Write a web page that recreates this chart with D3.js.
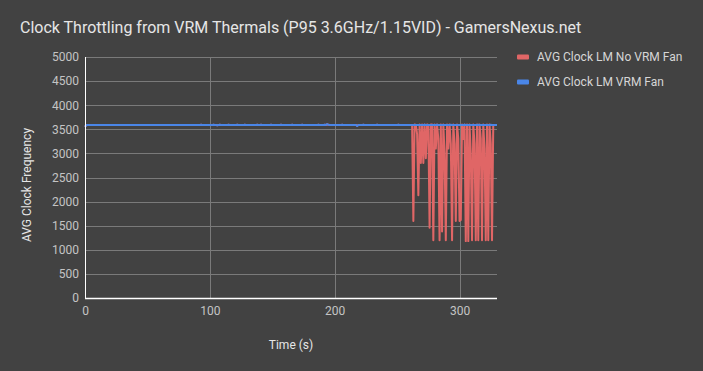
<!DOCTYPE html>
<html>
<head>
<meta charset="utf-8">
<script src="https://cdn.jsdelivr.net/npm/d3@7"></script>
<style>
  body { margin: 0; background: #424242; }
  svg { display: block; font-family: Roboto, "Noto Sans", sans-serif; }
</style>
</head>
<body>
<svg id="chart" width="703" height="371"></svg>
<script>
var chartTitle = "Clock Throttling from VRM Thermals (P95 3.6GHz/1.15VID) - GamersNexus.net";
var xTitle = "Time (s)";
var yTitle = "AVG Clock Frequency";
var seriesNames = ["AVG Clock LM No VRM Fan", "AVG Clock LM VRM Fan"];
var seriesColors = ["#e06666", "#4a86e8"];
var xTicks = [0, 100, 200, 300];
var yTicks = [0, 500, 1000, 1500, 2000, 2500, 3000, 3500, 4000, 4500, 5000];

// one sample per second, starting at t = 0
var noFanClock = [
  3552,3586,3590,3590,3590,3590,3590,3590,3590,3590,3590,3590,3590,3590,3590,3590,3590,3590,3590,3590,
  3590,3590,3590,3590,3590,3590,3590,3590,3590,3590,3590,3590,3590,3590,3590,3590,3590,3590,3590,3590,
  3590,3590,3590,3590,3590,3590,3590,3590,3590,3590,3590,3590,3590,3590,3590,3590,3590,3590,3590,3590,
  3590,3590,3590,3590,3590,3590,3590,3590,3590,3590,3590,3590,3590,3590,3590,3590,3590,3590,3590,3590,
  3590,3590,3590,3590,3590,3590,3590,3590,3590,3590,3590,3590,3590,3592,3590,3590,3588,3590,3590,3590,
  3590,3588,3590,3592,3590,3590,3586,3590,3592,3590,3590,3590,3588,3590,3590,3592,3590,3590,3590,3590,
  3590,3590,3592,3590,3588,3590,3590,3590,3592,3590,3590,3590,3590,3588,3590,3590,3590,3590,3592,3590,
  3590,3592,3590,3590,3588,3590,3590,3590,3590,3592,3590,3590,3590,3588,3590,3590,3590,3592,3590,3590,
  3590,3590,3588,3590,3590,3590,3592,3590,3590,3590,3590,3588,3590,3590,3592,3590,3590,3590,3590,3590,
  3590,3590,3590,3588,3590,3590,3590,3592,3590,3590,3590,3590,3592,3590,3600,3592,3590,3590,3590,3590,
  3590,3590,3588,3590,3590,3590,3592,3590,3590,3590,3590,3588,3590,3590,3590,3590,3590,3590,3575,3590,
  3590,3590,3590,3592,3590,3590,3590,3590,3588,3590,3590,3590,3590,3590,3592,3590,3590,3590,3590,3590,
  3590,3590,3590,3590,3590,3588,3590,3590,3590,3590,3590,3592,3590,3590,3590,3590,3590,3590,3590,3590,
  3590,3590,3590,1600,3600,3590,3400,2130,3600,2800,3600,2800,3600,2900,3600,3590,1460,3600,3600,1200,
  3600,3100,3600,3300,1200,3600,1380,3600,3000,1200,3600,3100,3600,3200,1200,3600,3200,1600,3600,3300,
  1600,1620,3600,3300,3600,1180,3600,1180,3600,3000,1200,3600,3200,1200,3600,1200,3600,3300,1200,3600,
  3100,1200,3600,1200,3600,3200,1200,3600
];

var fanClock = [
  3550,3586,3590,3590,3590,3591,3590,3590,3590,3590,3590,3590,3590,3590,3590,3590,3590,3590,3590,3590,
  3590,3590,3590,3590,3590,3590,3590,3590,3590,3590,3590,3590,3590,3590,3590,3590,3590,3590,3590,3590,
  3590,3590,3590,3590,3590,3590,3590,3590,3590,3590,3590,3590,3590,3590,3590,3590,3590,3590,3590,3590,
  3590,3590,3590,3590,3590,3590,3590,3590,3590,3590,3590,3590,3590,3590,3590,3590,3590,3590,3590,3590,
  3590,3590,3590,3590,3590,3590,3590,3590,3590,3590,3590,3590,3590,3592,3590,3590,3588,3590,3590,3590,
  3590,3588,3590,3592,3590,3590,3586,3590,3592,3590,3590,3590,3588,3590,3590,3592,3590,3590,3590,3590,
  3590,3590,3592,3590,3588,3590,3590,3590,3592,3590,3590,3590,3590,3588,3590,3590,3590,3590,3592,3590,
  3590,3592,3590,3590,3588,3590,3590,3590,3590,3592,3590,3590,3590,3588,3590,3590,3590,3592,3590,3590,
  3590,3590,3588,3590,3590,3590,3592,3590,3590,3590,3590,3588,3590,3590,3592,3590,3590,3590,3590,3590,
  3590,3590,3590,3588,3590,3590,3590,3592,3590,3590,3590,3590,3592,3590,3605,3592,3590,3590,3590,3590,
  3590,3590,3588,3590,3590,3590,3592,3590,3590,3590,3590,3588,3590,3590,3590,3590,3590,3590,3568,3590,
  3590,3590,3590,3592,3590,3590,3590,3590,3588,3590,3590,3590,3590,3590,3592,3590,3590,3590,3590,3590,
  3590,3590,3590,3590,3590,3588,3590,3590,3590,3590,3590,3592,3590,3590,3590,3590,3590,3590,3590,3590,
  3590,3590,3590,3590,3590,3590,3588,3590,3590,3590,3590,3590,3592,3590,3590,3590,3590,3590,3590,3590,
  3590,3590,3592,3590,3590,3590,3588,3590,3590,3590,3590,3590,3590,3592,3590,3590,3590,3590,3588,3590,
  3590,3590,3590,3590,3592,3590,3590,3590,3590,3590,3588,3590,3590,3590,3590,3592,3590,3590,3590,3590,
  3590,3590,3590,3590,3590,3592,3590,3590,3590,3590,3590
];

var svg = d3.select("#chart");
var margin = {left: 85, right: 206, top: 57, bottom: 73};
var width = 703 - margin.left - margin.right;
var height = 371 - margin.top - margin.bottom;

svg.append("rect").attr("width", 703).attr("height", 371).attr("fill", "#424242");

var x = d3.scaleLinear().domain([0, 330]).range([margin.left, margin.left + width]);
var y = d3.scaleLinear().domain([0, 5000]).range([margin.top + height, margin.top]);

// grid
svg.append("g").selectAll("line.h")
  .data(yTicks.slice(1))
  .enter().append("line")
  .attr("x1", margin.left).attr("x2", margin.left + width)
  .attr("y1", function(d){ return Math.round(y(d)) + 0.5; })
  .attr("y2", function(d){ return Math.round(y(d)) + 0.5; })
  .attr("stroke", "#7a7a7a").attr("stroke-width", 1);

svg.append("g").selectAll("line.v")
  .data(xTicks.slice(1))
  .enter().append("line")
  .attr("x1", function(d){ return Math.round(x(d)) + 0.5; })
  .attr("x2", function(d){ return Math.round(x(d)) + 0.5; })
  .attr("y1", margin.top).attr("y2", margin.top + height)
  .attr("stroke", "#7a7a7a").attr("stroke-width", 1);

// axes (d3 axis, then restyled)
var yAxis = svg.append("g")
  .attr("transform", "translate(" + margin.left + ",0)")
  .call(d3.axisLeft(y).tickValues(yTicks).tickFormat(d3.format("d")).tickSize(0).tickPadding(6));
var xAxis = svg.append("g")
  .attr("transform", "translate(0," + (margin.top + height) + ")")
  .call(d3.axisBottom(x).tickValues(xTicks).tickFormat(d3.format("d")).tickSize(0).tickPadding(8));

[xAxis, yAxis].forEach(function(a){
  a.select(".domain").remove();
  a.selectAll("text")
    .attr("fill", "#c4c4c4")
    .style("font-size", "12px")
    .style("font-family", "Roboto, sans-serif");
});

// lines
var line = d3.line()
  .x(function(d, i){ return x(i); })
  .y(function(d){ return y(d); });

var series = [noFanClock, fanClock];
svg.append("g").selectAll("path")
  .data(series)
  .enter().append("path")
  .attr("d", function(d){ return line(d); })
  .attr("fill", "none")
  .attr("stroke", function(d, i){ return seriesColors[i]; })
  .attr("stroke-width", 2)
  .attr("stroke-linejoin", "round");

// axis lines on top
svg.append("line")
  .attr("x1", margin.left + 0.5).attr("x2", margin.left + 0.5)
  .attr("y1", margin.top).attr("y2", margin.top + height + 1)
  .attr("stroke", "#ffffff").attr("stroke-width", 1);
svg.append("line")
  .attr("x1", margin.left).attr("x2", margin.left + width)
  .attr("y1", margin.top + height + 0.5).attr("y2", margin.top + height + 0.5)
  .attr("stroke", "#ffffff").attr("stroke-width", 1.5);

// titles
svg.append("text")
  .attr("x", 20).attr("y", 33)
  .attr("fill", "#e6e6e6")
  .style("font-size", "16px")
  .text(chartTitle);

svg.append("text")
  .attr("x", margin.left + width / 2).attr("y", 349)
  .attr("text-anchor", "middle")
  .attr("fill", "#e6e6e6")
  .style("font-size", "12px")
  .text(xTitle);

svg.append("text")
  .attr("transform", "translate(31,185) rotate(-90)")
  .attr("text-anchor", "middle")
  .attr("fill", "#e6e6e6")
  .style("font-size", "12px")
  .text(yTitle);

// legend
var legend = svg.append("g").selectAll("g")
  .data(seriesNames)
  .enter().append("g")
  .attr("transform", function(d, i){ return "translate(517," + (57 + i * 25) + ")"; });

legend.append("rect")
  .attr("x", 0).attr("y", -2.5)
  .attr("width", 12).attr("height", 5)
  .attr("rx", 1)
  .attr("fill", function(d, i){ return seriesColors[i]; });

legend.append("text")
  .attr("x", 20).attr("y", 0)
  .attr("dy", "0.35em")
  .attr("fill", "#d6d6d6")
  .style("font-size", "12px")
  .text(function(d){ return d; });
</script>
</body>
</html>
